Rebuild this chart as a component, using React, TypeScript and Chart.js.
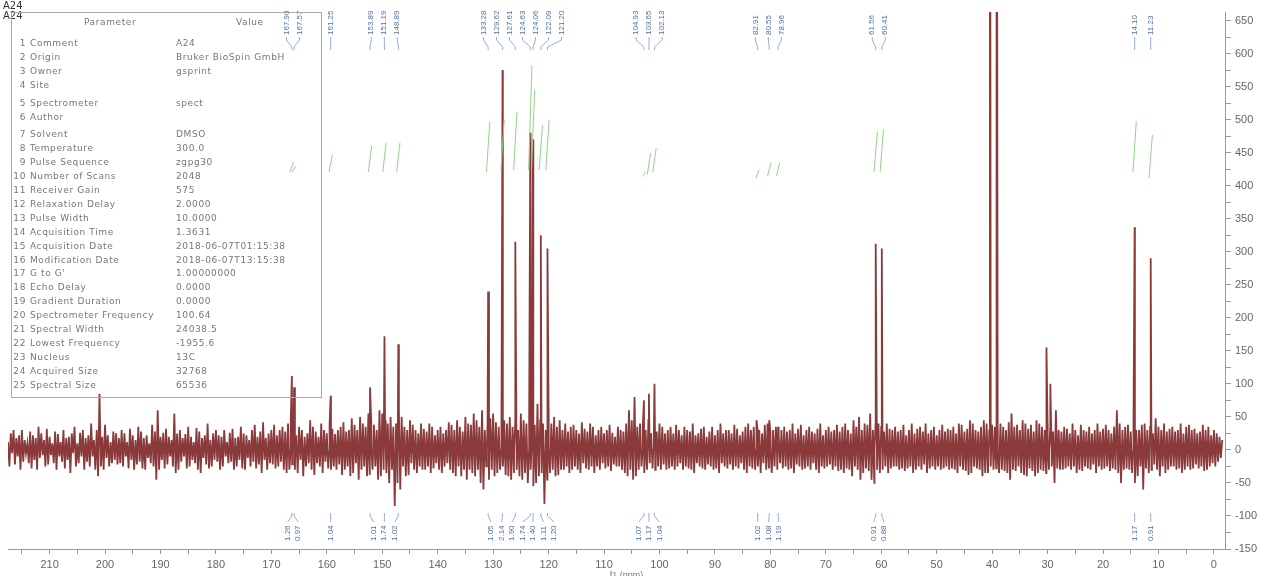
import React, { useEffect, useRef } from 'react';
import { Chart, registerables } from 'chart.js';

Chart.register(...registerables);

// ---------- DATA ----------
const NOISE_START = 217.5; // ppm of first baseline sample
const NOISE_STEP = 0.5; // ppm between samples within one array
const NOISE_OFFSET = 0.25; // lower excursions sit between the upper ones

// Baseline noise, upward excursions (one row = 10 ppm)
const noiseUpper: number[] = [
  12, 25, 30, 18, 22, 30, 15, 10, 28, 22, 18, 35, 25, 15, 32, 20, 10, 28, 24, 12,
  30, 18, 20, 25, 35, 10, 26, 30, 18, 22, 40, 15, 30, 85, 20, 38, 22, 12, 28, 25,
  18, 30, 25, 12, 32, 22, 15, 35, 28, 18, 22, 10, 38, 28, 60, 20, 26, 32, 20, 15,
  55, 25, 30, 18, 24, 35, 20, 12, 33, 28, 18, 22, 40, 15, 25, 30, 22, 20, 30, 12,
  26, 32, 18, 20, 35, 25, 22, 15, 30, 38, 20, 28, 42, 18, 25, 30, 38, 22, 30, 35,
  28, 40, 45, 30, 22, 35, 30, 20, 25, 45, 35, 28, 20, 40, 30, 25, 38, 32, 24, 30,
  35, 42, 28, 30, 48, 38, 30, 50, 40, 35, 55, 45, 38, 30, 60, 55, 45, 40, 50, 35,
  40, 60, 50, 35, 30, 45, 38, 30, 25, 40, 32, 28, 40, 35, 22, 30, 35, 25, 30, 42,
  38, 30, 45, 35, 28, 50, 40, 38, 55, 45, 35, 60, 30, 40, 48, 55, 42, 35, 30, 45,
  40, 50, 35, 45, 30, 55, 45, 40, 50, 60, 38, 70, 45, 40, 30, 60, 40, 50, 35, 45,
  30, 40, 28, 35, 38, 30, 25, 42, 32, 28, 40, 35, 22, 30, 35, 25, 30, 38, 26, 20,
  35, 30, 28, 40, 60, 45, 80, 35, 40, 38, 30, 45, 25, 32, 28, 40, 35, 25, 30, 35,
  25, 38, 30, 22, 35, 30, 28, 40, 22, 25, 32, 35, 20, 28, 35, 22, 30, 40, 25, 30,
  30, 25, 38, 32, 22, 28, 35, 40, 30, 35, 45, 30, 25, 38, 40, 28, 30, 35, 22, 30,
  35, 28, 30, 40, 25, 32, 38, 22, 30, 35, 28, 25, 32, 40, 22, 30, 35, 28, 30, 38,
  28, 35, 40, 30, 25, 45, 35, 50, 30, 40, 38, 55, 30, 45, 40, 35, 28, 40, 32, 30,
  35, 28, 30, 38, 22, 30, 40, 25, 32, 35, 28, 40, 25, 30, 35, 22, 30, 38, 28, 32,
  30, 35, 25, 40, 38, 28, 32, 45, 40, 30, 28, 35, 45, 40, 30, 38, 35, 30, 40, 35,
  30, 42, 55, 35, 38, 30, 45, 40, 32, 38, 28, 45, 40, 35, 30, 40, 35, 28, 60, 30,
  28, 35, 32, 25, 40, 30, 22, 38, 30, 28, 35, 25, 30, 40, 28, 32, 38, 30, 25, 35,
  60, 40, 30, 35, 38, 28, 45, 30, 30, 38, 40, 30, 35, 25, 48, 35, 30, 40, 28, 32,
  35, 28, 30, 40, 25, 35, 38, 30, 32, 25, 28, 38, 30, 35, 22, 30, 25, 20, 15,
];

// Baseline noise, downward excursions (one row = 10 ppm)
const noiseLower: number[] = [
  -25, -5, -22, -10, -30, -18, -5, -20, -28, -15, -30, -12, -8, -25, -22, -8, -20, -30, -10, -18,
  -28, -15, -35, -5, -25, -20, -10, -30, -18, -25, -10, -30, -40, -25, -30, -12, -25, -20, -15, -22,
  -20, -25, -10, -28, -15, -30, -22, -18, -28, -30, -12, -20, -25, -45, -30, -15, -28, -22, -10, -25,
  -35, -30, -18, -10, -28, -25, -15, -20, -30, -35, -12, -22, -28, -25, -15, -18, -30, -25, -10, -20,
  -18, -30, -25, -15, -28, -30, -12, -25, -18, -28, -22, -35, -15, -30, -20, -22, -28, -25, -18, -30,
  -35, -30, -22, -30, -35, -15, -40, -25, -20, -30, -38, -20, -25, -35, -18, -28, -30, -25, -30, -22,
  -38, -30, -25, -40, -35, -20, -45, -30, -25, -40, -38, -30, -25, -45, -40, -30, -35, -50, -30, -85,
  -50, -60, -25, -40, -38, -20, -30, -35, -25, -30, -30, -25, -35, -28, -20, -30, -35, -25, -20, -30,
  -35, -40, -25, -40, -30, -45, -30, -35, -40, -30, -50, -60, -25, -45, -30, -40, -35, -30, -25, -38,
  -40, -45, -35, -30, -40, -45, -35, -50, -30, -55, -50, -40, -35, -82, -45, -35, -30, -40, -38, -30,
  -30, -25, -35, -30, -25, -30, -35, -20, -28, -30, -25, -35, -25, -30, -20, -28, -25, -32, -22, -25,
  -25, -30, -35, -40, -30, -45, -40, -30, -25, -35, -30, -20, -28, -30, -25, -30, -22, -30, -28, -25,
  -30, -25, -20, -30, -25, -28, -30, -35, -20, -25, -28, -30, -22, -25, -30, -28, -35, -20, -25, -28,
  -22, -30, -25, -28, -20, -30, -35, -25, -28, -30, -25, -35, -20, -30, -28, -35, -25, -30, -20, -28,
  -25, -30, -28, -35, -22, -25, -30, -28, -25, -30, -20, -30, -35, -25, -28, -25, -22, -30, -25, -32,
  -30, -35, -28, -30, -40, -25, -30, -45, -35, -28, -32, -45, -50, -30, -35, -30, -25, -35, -28, -25,
  -25, -30, -28, -32, -28, -25, -35, -30, -25, -30, -22, -35, -28, -25, -30, -25, -30, -28, -25, -30,
  -28, -30, -35, -25, -30, -32, -38, -35, -25, -28, -30, -40, -35, -35, -25, -30, -28, -35, -30, -32,
  -35, -45, -30, -32, -25, -35, -38, -40, -28, -32, -40, -35, -30, -32, -35, -30, -25, -50, -28, -30,
  -30, -28, -25, -30, -25, -35, -30, -32, -25, -28, -30, -22, -35, -25, -30, -28, -25, -32, -28, -30,
  -35, -50, -30, -28, -30, -35, -50, -40, -25, -60, -28, -35, -30, -22, -30, -40, -25, -35, -30, -25,
  -25, -30, -28, -35, -30, -25, -30, -28, -22, -28, -25, -32, -30, -25, -20, -25, -18, -12,
];

// Labelled peaks: picked shift (label text) and where the line sits on the drawn axis
const peakLabelPpm: number[] = [
  167.9, 167.57, 161.25, 153.89, 151.19, 148.89, 133.28, 129.62, 127.61, 124.63, 124.06,
  122.09, 121.2, 104.93, 103.65, 102.13, 82.91, 80.55, 78.96, 61.56, 60.41, 14.1, 11.23,
];
const peakPosition: number[] = [
  166.3, 165.9, 159.3, 152.2, 149.6, 147.1, 130.9, 128.3, 126.0, 123.3, 122.8,
  121.4, 120.2, 102.8, 101.9, 100.9, 82.3, 80.2, 78.6, 61.0, 59.9, 14.3, 11.4,
];
const peakHeight: number[] = [
  112, 95, 82, 95, 172, 160, 240, 575, 315, 480, 470,
  325, 305, 75, 85, 100, 30, 45, 35, 312, 305, 337, 290,
];
const peakGroup: number[] = [0, 0, 1, 2, 2, 2, 3, 3, 3, 3, 3, 3, 3, 4, 4, 4, 5, 5, 5, 6, 6, 7, 8];

// Unlabelled peaks (solvent and aliphatic)
const extraPeakPpm: number[] = [40.4, 39.2, 30.2, 29.5];
const extraPeakHeight: number[] = [1500, 1500, 155, 100];

// Integration values (bottom labels)
const integralLabels: string[] = [
  '1.26', '0.97', '1.04', '1.01', '1.74', '1.02', '1.05', '2.14', '1.90', '1.74', '1.40',
  '1.11', '1.20', '1.07', '1.17', '1.04', '1.02', '1.08', '1.19', '0.91', '0.88', '1.17', '0.91',
];
// Integral curves (green), start and end level in intensity units
const integralLow: number[] = [
  421, 421, 421, 421, 421, 421, 421, 424, 424, 424, 424,
  424, 424, 414, 417, 421, 412, 415, 415, 421, 421, 421, 412,
];
const integralHigh: number[] = [
  436, 430, 447, 461, 465, 465, 497, 500, 512, 582, 545,
  492, 500, 421, 450, 457, 424, 435, 435, 482, 485, 497, 477,
];

// Parameter table
const paramNames: string[] = [
  'Comment', 'Origin', 'Owner', 'Site', 'Spectrometer', 'Author', 'Solvent', 'Temperature',
  'Pulse Sequence', 'Number of Scans', 'Receiver Gain', 'Relaxation Delay', 'Pulse Width',
  'Acquisition Time', 'Acquisition Date', 'Modification Date', "G to G'", 'Echo Delay',
  'Gradient Duration', 'Spectrometer Frequency', 'Spectral Width', 'Lowest Frequency',
  'Nucleus', 'Acquired Size', 'Spectral Size',
];
const paramValues: string[] = [
  'A24', 'Bruker BioSpin GmbH', 'gsprint', '', 'spect', '', 'DMSO', '300.0', 'zgpg30', '2048',
  '575', '2.0000', '10.0000', '1.3631', '2018-06-07T01:15:38', '2018-06-07T13:15:38',
  '1.00000000', '0.0000', '0.0000', '100.64', '24038.5', '-1955.6', '13C', '32768', '65536',
];

const X_MIN = -2;
const X_MAX = 217.5;
const Y_MIN = -150;
const Y_MAX = 663;
const X_TICK_STEP = 5;
const Y_TICK_STEP = 25;

const LINE_COLOR = '#8a3a3a';
const LABEL_COLOR = '#4d6fb3';
const CONNECT_COLOR = '#8098c8';
const INTEGRAL_COLOR = '#93d18a';
const FONT = "'Liberation Sans', Arial, sans-serif";
const TABLE_FONT = "'DejaVu Sans', Verdana, sans-serif";

function buildSpectrum() {
  const pts: { x: number; y: number }[] = [];
  noiseUpper.forEach((v, i) => pts.push({ x: NOISE_START - i * NOISE_STEP, y: v }));
  noiseLower.forEach((v, i) => pts.push({ x: NOISE_START - NOISE_OFFSET - i * NOISE_STEP, y: v }));
  const addPeak = (p: number, h: number) => {
    pts.push({ x: p + 0.22, y: 0 }, { x: p, y: h }, { x: p - 0.22, y: 0 });
  };
  peakPosition.forEach((p, i) => addPeak(p, peakHeight[i]));
  extraPeakPpm.forEach((p, i) => addPeak(p, extraPeakHeight[i]));
  pts.sort((a, b) => b.x - a.x);
  return pts;
}

function buildIntegrals() {
  const pts: { x: number; y: number | null }[] = [];
  peakPosition.forEach((p, i) => {
    pts.push({ x: p + 0.3, y: integralLow[i] }, { x: p - 0.3, y: integralHigh[i] }, { x: p - 0.31, y: null });
  });
  return pts;
}

function stepTicks(step: number) {
  return (s: any) => {
    const ticks: { value: number }[] = [];
    for (let v = Math.ceil(s.min / step) * step; v <= s.max + 1e-9; v += step) ticks.push({ value: v });
    s.ticks = ticks;
  };
}

const annotationPlugin = {
  id: 'nmrAnnotations',
  afterDatasetsDraw(chart: any) {
    const { ctx, scales, chartArea } = chart;
    const x = scales.x;
    ctx.save();
    const groups: Record<number, number[]> = {};
    peakPosition.forEach((_, i) => {
      (groups[peakGroup[i]] = groups[peakGroup[i]] || []).push(i);
    });
    ctx.lineWidth = 0.8;
    Object.values(groups).forEach((idxs) => {
      const pxs = idxs.map((i) => x.getPixelForValue(peakPosition[i]));
      const c = pxs.reduce((a, b) => a + b, 0) / pxs.length;
      const n = idxs.length;
      idxs.forEach((i, k) => {
        const lx = c + (k - (n - 1) / 2) * 13;
        const px = pxs[k];
        // top peak label
        ctx.fillStyle = LABEL_COLOR;
        ctx.font = `8px ${FONT}`;
        ctx.save();
        ctx.translate(lx, 35);
        ctx.rotate(-Math.PI / 2);
        ctx.textAlign = 'left';
        ctx.textBaseline = 'middle';
        ctx.fillText(peakLabelPpm[i].toFixed(2), 0, 0);
        ctx.restore();
        ctx.strokeStyle = CONNECT_COLOR;
        ctx.beginPath();
        ctx.moveTo(lx, 37);
        ctx.lineTo(lx, 40);
        ctx.lineTo(px, 47);
        ctx.lineTo(px, 50);
        ctx.stroke();
        // bottom integration label
        const bx = c + (k - (n - 1) / 2) * 10.5;
        ctx.fillStyle = LABEL_COLOR;
        ctx.save();
        ctx.translate(bx, 541);
        ctx.rotate(-Math.PI / 2);
        ctx.textAlign = 'left';
        ctx.textBaseline = 'middle';
        ctx.fillText(integralLabels[i], 0, 0);
        ctx.restore();
        ctx.strokeStyle = CONNECT_COLOR;
        ctx.beginPath();
        ctx.moveTo(bx, 522);
        ctx.lineTo(px, 516);
        ctx.lineTo(px, 513);
        ctx.stroke();
      });
    });
    // axis title (partly cut off at bottom)
    ctx.fillStyle = '#777';
    ctx.font = `9px ${FONT}`;
    ctx.textAlign = 'center';
    ctx.textBaseline = 'top';
    ctx.fillText('f1 (ppm)', (chartArea.left + chartArea.right) / 2 + 10, 571);
    ctx.restore();
  },
};

const App: React.FC = () => {
  const canvasRef = useRef<HTMLCanvasElement | null>(null);

  useEffect(() => {
    if (!canvasRef.current) return;
    const chart = new Chart(canvasRef.current, {
      type: 'line',
      data: {
        datasets: [
          {
            label: 'integrals',
            data: buildIntegrals() as any,
            borderColor: INTEGRAL_COLOR,
            borderWidth: 1,
            pointRadius: 0,
            spanGaps: false,
            tension: 0,
          },
          {
            label: '13C',
            data: buildSpectrum() as any,
            borderColor: LINE_COLOR,
            borderWidth: 1.8,
            pointRadius: 0,
            tension: 0,
          },
        ],
      },
      options: {
        animation: false,
        responsive: false,
        maintainAspectRatio: false,
        layout: { padding: { left: 8, top: 12, right: 0, bottom: 0 } },
        plugins: { legend: { display: false }, tooltip: { enabled: false } },
        scales: {
          x: {
            type: 'linear',
            reverse: true,
            min: X_MIN,
            max: X_MAX,
            position: 'bottom',
            afterBuildTicks: stepTicks(X_TICK_STEP),
            afterFit: (s: any) => {
              s.height = 27;
            },
            ticks: {
              autoSkip: false,
              maxRotation: 0,
              padding: 4,
              color: '#666',
              font: { family: FONT, size: 11 },
              callback: (v: any) => (Number(v) % 10 === 0 ? String(v) : ''),
            },
            grid: { display: true, drawOnChartArea: false, drawTicks: true, tickLength: 5, color: '#999' },
            border: { display: true, color: '#999' },
          },
          y: {
            type: 'linear',
            position: 'right',
            min: Y_MIN,
            max: Y_MAX,
            afterBuildTicks: stepTicks(Y_TICK_STEP),
            afterFit: (s: any) => {
              s.width = 40;
            },
            ticks: {
              autoSkip: false,
              padding: 4,
              color: '#666',
              font: { family: FONT, size: 11 },
              callback: (v: any) => (Number(v) % 50 === 0 ? String(v) : ''),
            },
            grid: { display: true, drawOnChartArea: false, drawTicks: true, tickLength: 6, color: '#999' },
            border: { display: true, color: '#999' },
          },
        },
      },
      plugins: [annotationPlugin],
    });
    return () => chart.destroy();
  }, []);

  const rowY = (i: number) => 43 + i * 13.9 + (i >= 4 ? 4 : 0) + (i >= 6 ? 4 : 0);
  const textStyle: React.CSSProperties = {
    position: 'absolute',
    fontFamily: TABLE_FONT,
    fontSize: 9,
    letterSpacing: '0.6px',
    lineHeight: '12px',
    color: '#777',
    whiteSpace: 'nowrap',
  };

  return (
    <div style={{ position: 'fixed', left: 0, top: 0, width: 1265, height: 576, background: '#fff', overflow: 'hidden' }}>
      <canvas ref={canvasRef} width={1265} height={576} style={{ display: 'block', position: 'absolute', left: 0, top: 0 }} />
      <div style={{ position: 'absolute', left: 0, top: 0, width: 1265, height: 576, pointerEvents: 'none' }}>
        <div style={{ ...textStyle, left: 3, top: 0, fontSize: 10, letterSpacing: '0px', color: '#333' }}>A24</div>
        <div style={{ ...textStyle, left: 3, top: 10, fontSize: 10, letterSpacing: '0px', color: '#333' }}>A24</div>
        <div
          style={{
            position: 'absolute',
            left: 11,
            top: 12,
            width: 311,
            height: 386,
            border: '1px solid #aaa',
            boxSizing: 'border-box',
          }}
        />
        <div style={{ ...textStyle, left: 84, top: 16 }}>Parameter</div>
        <div style={{ ...textStyle, left: 236, top: 16 }}>Value</div>
        {paramNames.map((name, i) => (
          <React.Fragment key={name}>
            <div style={{ ...textStyle, left: 10, top: rowY(i) - 6, width: 16, textAlign: 'right' }}>{i + 1}</div>
            <div style={{ ...textStyle, left: 30, top: rowY(i) - 6 }}>{name}</div>
            <div style={{ ...textStyle, left: 176, top: rowY(i) - 6 }}>{paramValues[i]}</div>
          </React.Fragment>
        ))}
      </div>
    </div>
  );
};

export default App;
